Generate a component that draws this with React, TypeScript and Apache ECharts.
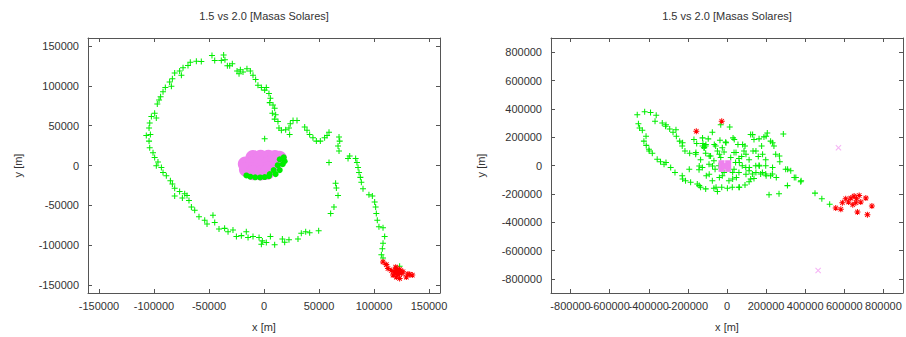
import React, { useEffect, useRef } from "react";
import * as echarts from "echarts";

// ---------- data (meters) ----------
const TITLE = "1.5 vs 2.0 [Masas Solares]";
const X_NAME = "x [m]";
const Y_NAME = "y [m]";

const LEFT_RANGE = [-160000, 160000];
const LEFT_TICKS = [-150000, -100000, -50000, 0, 50000, 100000, 150000];
const RIGHT_RANGE = [-900000, 900000];
const RIGHT_TICKS = [-800000, -600000, -400000, -200000, 0, 200000, 400000, 600000, 800000];

const LEFT_GREEN: number[][] = [
  [-47300, 138000], [-44800, 131700], [-38800, 131700], [-36700, 138800], [-35500, 132600], [-33300, 125100],
  [-28800, 127600], [-57000, 130500], [-61500, 130900], [-67000, 129700], [-69100, 125600], [-73600, 122700],
  [-76700, 118500], [-75100, 113200], [-81200, 116000], [-83300, 109000], [-85800, 104900], [-84200, 99500],
  [-89700, 97900], [-91800, 92500], [-94000, 86300], [-95400, 82200], [-97000, 77200], [-99400, 65700],
  [-97900, 59500], [-102400, 61500], [-103900, 53300], [-104500, 47100], [-107000, 37600], [-103300, 38800],
  [-104500, 30600], [-103900, 22300], [-100900, 16100], [-99400, 9900], [-96400, 4500], [-97900, -400],
  [-93300, -2500], [-91800, -8700], [-88800, -12800], [-85100, -19000], [-83300, -23100], [-81200, -28500],
  [-76700, -32600], [-72100, -35500], [-81200, -38400], [-74200, -40900], [-70000, -37600], [-68200, -43800],
  [-66000, -52000], [-63000, -56200], [-59100, -64400], [-53900, -68600], [-51800, -73500], [-46400, -62400],
  [-44800, -71400], [-40900, -79700], [-35800, -78900], [-32700, -83100], [-28200, -80900], [-25100, -89200],
  [-20600, -88000], [-16100, -83000], [-14500, -90400], [-10000, -89200], [-4500, -90400], [-1500, -94600],
  [-2400, -98700], [2100, -96600], [5800, -89200], [9700, -99500], [16700, -92100], [18800, -96200],
  [22700, -93300], [30900, -92100], [33900, -85100], [37900, -83000], [41500, -84300], [49700, -81800],
  [600, 33500], [59100, 3700], [65100, -22300], [65800, -28100], [67300, -37600], [63600, -52000], [60600, -60300],
  [-31200, 125100], [-24500, 118500], [-22700, 115200], [-21500, 120200], [-19100, 117300], [-15500, 121400],
  [-12400, 118500], [-10000, 113200], [-7600, 107800], [-5500, 100800], [-2400, 97900], [600, 94600],
  [2100, 97900], [4500, 90400], [5800, 84300], [5200, 78900], [8200, 76000], [9700, 71900],
  [7600, 65700], [10600, 63600], [9700, 58200], [12700, 55300], [13600, 47100], [15800, 44200],
  [19700, 45000], [22700, 47100], [23900, 52400], [26400, 56600], [30000, 56600], [23300, 38800],
  [37000, 48300], [39100, 44200], [41500, 38800], [44500, 34700], [47600, 30600], [51200, 30600],
  [55100, 34700], [57300, 37600], [59100, 41700], [68200, 35900], [68800, 30600], [67300, 24400],
  [68200, 18200], [76400, 8700], [77900, 12000], [83300, 8700], [84500, 3700], [85500, -2500],
  [86400, -8700], [87600, -14900], [88500, -21100], [90000, -29300], [95400, -36800], [98500, -38400],
  [100600, -45800], [101500, -52000], [102100, -60300], [103000, -68600], [104500, -76800], [108200, -78000],
  [109700, -89200], [108200, -97500], [107600, -104500], [106700, -111900], [108200, -116100], [123300, -126400],
];

const LEFT_GREEN_BLOB: number[][] = [
  [14300, 7800], [17900, 10300], [12500, 400], [17000, 1600], [8800, -5800], [14300, -5800],
  [5200, -10800], [10600, -10800], [18800, 5300], [4500, -13500], [600, -14500], [-3500, -15000],
  [-8000, -14800], [-12500, -14000], [-16000, -12500],
];

const LEFT_VIOLET: number[][] = [
  [-10000, 10000], [-3000, 10500], [4000, 10500], [10000, 10000], [14000, 9000],
  [-17000, 2000], [-10000, 2000], [-3000, 2000], [4000, 2000], [10000, 3000],
  [-16000, -5000], [-9000, -5000], [-2000, -5000], [5000, -4000],
  [-10000, -9000], [-3000, -9500], [3000, -8500],
];

const LEFT_RED: number[][] = [
  [108200, -121000], [111200, -124400], [112700, -129300], [115700, -131700], [118800, -134600], [120300, -129300],
  [123300, -130500], [121800, -136700], [124800, -135900], [120300, -140000], [123300, -141700], [117300, -137500],
  [126400, -133400], [129400, -140000], [132400, -136700], [134800, -137500], [130900, -136300], [122700, -133400],
  [120900, -132600], [119700, -127600], [120000, -131000], [122000, -133000], [124000, -132000], [121000, -135000],
  [119000, -133000], [125000, -134000],
];

const RIGHT_GREEN: number[][] = [
  [-459000, 358000], [-453000, 295000], [-447000, 265000], [-433000, 249000], [-421000, 379000], [-391000, 374000],
  [-362000, 354000], [-368000, 312000], [-331000, 300000], [-314000, 277000], [-293000, 258000], [-276000, 235000],
  [-259000, 207000], [-242000, 172000], [-229000, 137000], [-215000, 102000], [-191000, 86000],
  [-425000, 172000], [-413000, 142000], [-399000, 114000], [-382000, 86000], [-357000, 44000], [-340000, 26000],
  [-322000, 9000], [-288000, -14000], [-266000, -49000], [-229000, -72000], [-212000, -107000], [-186000, -119000],
  [-152000, -130000], [-135000, -154000], [-109000, -165000], [-67000, -160000], [-49000, -184000], [-27000, -153000],
  [2000, -160000], [27000, -153000], [61000, -153000], [92000, -137000], [113000, -114000], [138000, -91000],
  [172000, -60000], [198000, -60000], [223000, -72000], [252000, -84000], [215000, -207000], [266000, -200000],
  [309000, -142000],
  [121000, 219000], [138000, 184000], [164000, 188000], [189000, 202000], [206000, 230000], [223000, 172000],
  [240000, 137000], [249000, 79000], [270000, 26000], [288000, 223000], [300000, -26000], [326000, -37000],
  [352000, -84000], [377000, -114000], [450000, -195000], [485000, -235000], [525000, -274000],
  [-169000, 184000], [-155000, 156000], [-123000, 156000], [-118000, 126000], [-75000, 235000], [-96000, 188000],
  [-58000, 137000], [-36000, 179000], [-7000, 165000], [31000, 195000], [56000, 149000], [92000, 137000],
  [133000, 102000], [177000, 137000], [-109000, 86000], [-135000, 40000], [-84000, 67000], [-49000, 102000],
  [-24000, 126000], [36000, 91000], [75000, 63000], [113000, 40000], [160000, 63000], [198000, 40000],
  [-126000, -14000], [-92000, 9000], [-61000, -26000], [44000, 21000], [96000, -14000], [147000, -2000],
  [181000, -49000], [-106000, -72000], [-75000, -107000], [-24000, -72000], [10000, -107000], [61000, -49000],
  [130000, -60000], [121000, -95000], [232000, -60000], [-160000, 79000], [-67000, 33000], [-32000, 56000],
  [19000, 56000], [61000, 49000], [87000, 102000], [-15000, 95000], [-109000, 137000], [78000, -2000],
  [113000, -37000], [164000, 2000], [198000, -2000], [-32000, 288000], [14000, 272000], [-143000, -30000],
  [-41000, -2000], [36000, -26000], [-15000, -49000], [48000, -84000],
  [-125000, 137000], [-108000, 149000], [-65000, 149000], [-5000, 160000], [37000, 184000], [80000, 149000],
  [131000, 218000], [200000, 207000], [233000, 160000], [-159000, 91000], [-91000, 67000], [-39000, 79000],
  [46000, 91000], [97000, 79000], [148000, 102000], [182000, 79000], [268000, 67000], [-142000, -3000],
  [-74000, -3000], [63000, 21000], [114000, -14000], [165000, -3000], [233000, -14000], [-193000, -26000],
  [-91000, -61000], [-39000, -84000], [29000, -49000], [97000, -61000], [148000, -49000], [200000, -72000],
  [29000, -96000], [-56000, -153000], [63000, -153000], [-142000, -142000], [-227000, -96000], [310000, -26000],
  [344000, -84000], [379000, -107000], [-261000, 253000], [-227000, 160000], [-312000, 288000], [-414000, 207000],
  [-398000, 102000], [-312000, 21000], [-125000, 195000], [-116000, 126000],
];

const RIGHT_VIOLET: number[][] = [
  [-28000, 16000], [6000, 16000], [-28000, -24000], [6000, -24000], [-11000, -4000],
];

const RIGHT_RED: number[][] = [
  [-27000, 312000], [-157000, 242000], [556000, -300000], [582000, -309000], [590000, -263000], [621000, -258000],
  [633000, -230000], [650000, -216000], [662000, -235000], [659000, -263000], [676000, -212000], [643000, -277000],
  [667000, -328000], [710000, -230000], [718000, -347000], [741000, -286000], [684000, -258000], [607000, -235000],
];

const RIGHT_PINK: number[][] = [
  [570000, 126000], [466000, -742000],
];

// ---------- styling ----------
const FONT = "Liberation Sans, Arial, sans-serif";
const TEXT = "#333333";
const AXIS = "#555555";
const GREEN = "#00ee00";
const VIOLET = "#ee82ee";
const RED = "#ff0000";

const PLUS_D = "M-0.17,-1L0.17,-1L0.17,-0.17L1,-0.17L1,0.17L0.17,0.17L0.17,1L-0.17,1L-0.17,0.17L-1,0.17L-1,-0.17L-0.17,-0.17Z";
const CROSS_D = "M-0.644,-0.856L0.856,0.644L0.644,0.856L-0.856,-0.644ZM-0.856,0.644L0.644,-0.856L0.856,-0.644L-0.644,0.856Z";
const PLUS = "path://" + PLUS_D;
const CROSS = "path://" + CROSS_D;
const STAR = "path://" + PLUS_D + CROSS_D;

const labelBase = {
  show: true,
  color: TEXT,
  fontSize: 11,
  fontFamily: FONT,
  hideOverlap: false,
  showMinLabel: true,
  showMaxLabel: true,
  formatter: (v: number) => String(v),
};

// Tick labels are split over two stacked bottom axes so that ECharts keeps all
// of them even where they touch (as in the reference).
function axes(gridIndex: number, range: number[], ticks: number[]) {
  const common = {
    gridIndex,
    type: "value" as const,
    min: range[0],
    max: range[1],
    splitLine: { show: false },
    axisLine: { show: true, onZero: false, lineStyle: { color: AXIS, width: 1 } },
    axisTick: { show: true, inside: true, length: 4, customValues: ticks, lineStyle: { color: AXIS } },
  };
  const even = ticks.filter((_, i) => i % 2 === 0);
  const odd = ticks.filter((_, i) => i % 2 === 1);
  const xs = [
    {
      ...common,
      position: "bottom",
      axisLabel: { ...labelBase, customValues: even, margin: 7 },
      name: X_NAME,
      nameLocation: "middle",
      nameGap: 28,
      nameTextStyle: { color: TEXT, fontSize: 11, fontFamily: FONT },
    },
    {
      ...common,
      position: "bottom",
      axisLine: { show: false, onZero: false },
      axisTick: { show: false },
      axisLabel: { ...labelBase, customValues: odd, margin: 7 },
    },
    { ...common, position: "top", axisLabel: { show: false } },
  ];
  const ys = [
    {
      ...common,
      position: "left",
      axisLabel: { ...labelBase, customValues: ticks, margin: 9 },
      name: Y_NAME,
      nameLocation: "middle",
      nameGap: 65,
      nameRotate: 90,
      nameTextStyle: { color: TEXT, fontSize: 11, fontFamily: FONT },
    },
    { ...common, position: "right", axisLabel: { show: false } },
  ];
  return { xs, ys };
}

function scatter(xi: number, yi: number, data: number[][], symbol: string, size: any, color: string, opacity = 1) {
  return {
    type: "scatter",
    xAxisIndex: xi,
    yAxisIndex: yi,
    data,
    symbol,
    symbolSize: size,
    itemStyle: { color, opacity },
    silent: true,
  };
}

export default function App() {
  const ref = useRef<HTMLDivElement>(null);
  useEffect(() => {
    if (!ref.current) return;
    const chart = echarts.init(ref.current, null, { renderer: "svg" });
    const L = axes(0, LEFT_RANGE, LEFT_TICKS);
    const R = axes(1, RIGHT_RANGE, RIGHT_TICKS);
    // x axes: left 0,1,2 ; right 3,4,5.  y axes: left 0,1 ; right 2,3
    chart.setOption({
      animation: false,
      backgroundColor: "#ffffff",
      textStyle: { fontFamily: FONT },
      grid: [
        { left: 88, top: 38, width: 352, height: 258 },
        { left: 551, top: 38, width: 352, height: 258 },
      ],
      xAxis: [...L.xs, ...R.xs],
      yAxis: [...L.ys, ...R.ys],
      series: [
        scatter(0, 0, LEFT_GREEN, PLUS, 6, GREEN),
        scatter(0, 0, LEFT_VIOLET, "circle", 15, VIOLET),
        scatter(0, 0, LEFT_GREEN_BLOB, "circle", 6, GREEN),
        scatter(0, 0, LEFT_RED, STAR, 6, RED),
        scatter(3, 2, RIGHT_GREEN, PLUS, 6, GREEN),
        scatter(3, 2, RIGHT_VIOLET, "rect", 6, VIOLET),
        scatter(3, 2, RIGHT_RED, STAR, 6, RED),
        scatter(3, 2, RIGHT_PINK, CROSS, 6, VIOLET, 0.6),
      ],
      graphic: [
        { type: "text", x: 264, y: 16, style: { text: TITLE, fill: TEXT, font: "11px " + FONT, textAlign: "center", textVerticalAlign: "middle" } },
        { type: "text", x: 727, y: 16, style: { text: TITLE, fill: TEXT, font: "11px " + FONT, textAlign: "center", textVerticalAlign: "middle" } },
      ],
    });
    return () => chart.dispose();
  }, []);
  return <div ref={ref} style={{ position: "absolute", left: 0, top: 0, width: 906, height: 337 }} />;
}
